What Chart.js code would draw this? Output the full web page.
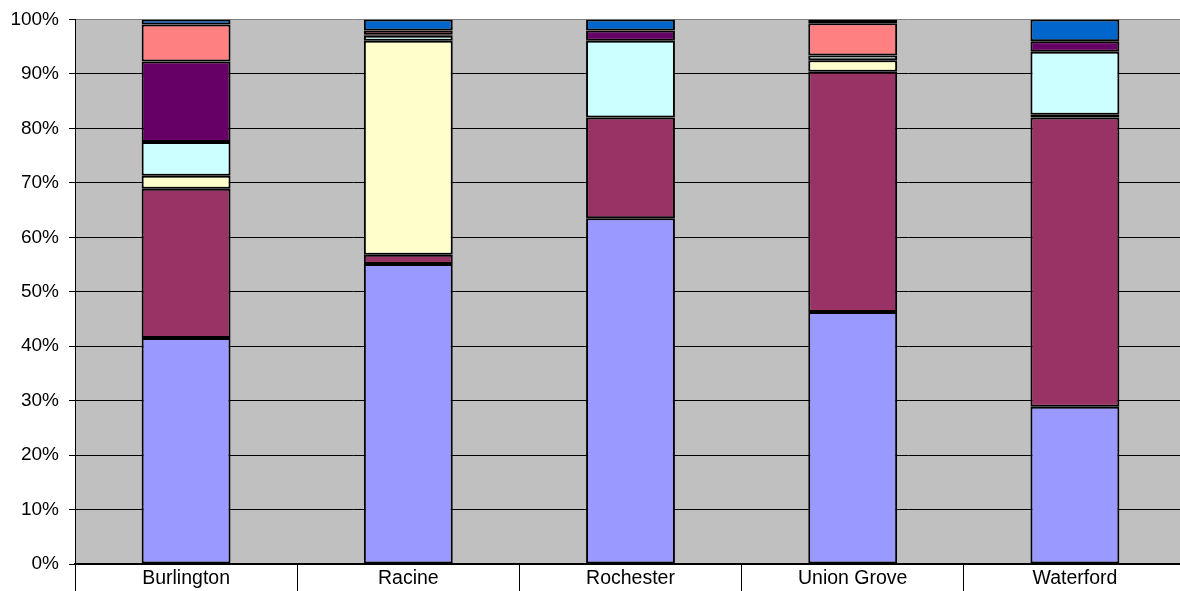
<!DOCTYPE html>
<html>
<head>
<meta charset="utf-8">
<script src="https://cdn.jsdelivr.net/npm/chart.js@4"></script>
<style>
html,body{margin:0;padding:0;background:#fff;overflow:hidden;}
#wrap{width:1186px;height:591px;}
</style>
</head>
<body>
<div id="wrap"><canvas id="c" width="1186" height="591"></canvas></div>
<script>
const categories = ['Burlington', 'Racine', 'Rochester', 'Union Grove', 'Waterford'];
const seriesLavender = [41.5, 55.1, 63.5, 46.3, 28.9];
const seriesPlum     = [27.4, 1.7, 18.5, 44.1, 53.1];
const seriesYellow   = [2.4, 39.3, 0, 2.1, 0.5];
const seriesCyan     = [6.2, 0.9, 14.1, 0.9, 11.6];
const seriesPurple   = [14.8, 0.2, 1.9, 0, 1.9];
const seriesSalmon   = [6.8, 0.8, 0, 5.9, 0];
const seriesBlue     = [0.9, 2.0, 2.0, 0.7, 4.0];
const yTicks = [0, 10, 20, 30, 40, 50, 60, 70, 80, 90, 100];

const seriesList = [
  ['S1', seriesLavender, '#9999FF'],
  ['S2', seriesPlum, '#993366'],
  ['S3', seriesYellow, '#FFFFCC'],
  ['S4', seriesCyan, '#CCFFFF'],
  ['S5', seriesPurple, '#660066'],
  ['S6', seriesSalmon, '#FF8080'],
  ['S7', seriesBlue, '#0066CC']
];

const font = {family: '"Liberation Sans", Arial, sans-serif', size: 19, lineHeight: 1};
const xFont = {family: '"Liberation Sans", Arial, sans-serif', size: 19.5};

const plotBg = {
  id: 'plotBg',
  beforeDraw(chart) {
    const {ctx, chartArea: a} = chart;
    ctx.save();
    ctx.fillStyle = '#C0C0C0';
    ctx.fillRect(a.left, a.top, a.right - a.left, a.bottom - a.top);
    ctx.restore();
  }
};

new Chart(document.getElementById('c'), {
  type: 'bar',
  data: {
    labels: categories,
    datasets: seriesList.map(([name, data, color]) => ({
      label: name,
      data: data,
      backgroundColor: color,
      borderColor: '#000',
      borderWidth: 2,
      borderSkipped: false,
      categoryPercentage: 1,
      barPercentage: 0.4
    }))
  },
  options: {
    responsive: false,
    animation: false,
    layout: {padding: {top: 19, left: 0, right: 0, bottom: 0}},
    plugins: {legend: {display: false}, tooltip: {enabled: false}},
    scales: {
      x: {
        stacked: true,
        offset: true,
        grid: {offset: true, drawOnChartArea: false, drawTicks: true, tickLength: 27, color: '#000', lineWidth: 1},
        border: {display: true, color: '#000', width: 2},
        ticks: {font: xFont, color: '#000', padding: -24, maxRotation: 0},
        afterFit(s) { s.height = 27; }
      },
      y: {
        stacked: true,
        min: 0,
        max: 100,
        afterBuildTicks(s) { s.ticks = yTicks.map(v => ({value: v})); },
        grid: {
          color: (c) => (c.tick && c.tick.value === 100) ? '#808080' : '#000',
          tickColor: '#000',
          lineWidth: 1,
          tickLength: 6
        },
        border: {display: true, color: '#000', width: 1},
        ticks: {font: font, color: '#000', padding: 10, callback: (v) => v + '%'},
        afterFit(s) { s.width = 75; }
      }
    }
  },
  plugins: [plotBg]
});
</script>
</body>
</html>
